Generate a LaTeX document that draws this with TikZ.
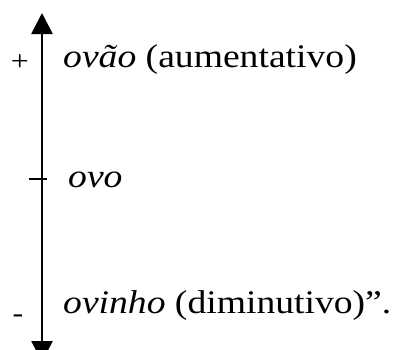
\documentclass[tikz,border=0pt]{standalone}
\usepackage{fontspec}
\setmainfont[FakeStretch=1.14]{Liberation Serif}
\usetikzlibrary{arrows.meta}
\begin{document}
\begin{tikzpicture}[x=1pt,y=-1pt,
  lbl/.style={anchor=base west,inner sep=0pt,font=\fontsize{33}{38}\selectfont},
  sgn/.style={inner sep=0pt,font=\fontsize{28}{32}\selectfont},
  axis/.style={line width=2.6pt,{Triangle[width=21pt,length=21pt]}-{Triangle[width=21pt,length=21pt]}}]
\useasboundingbox (0,0) rectangle (398,349);
\coordinate (top) at (42,13);
\coordinate (bot) at (42,362);
\draw[axis] (bot) -- (top);
\coordinate (tl) at (29,179);
\coordinate (tr) at (47,179);
\draw[line width=1.4pt] (tl) -- (tr);
\node[lbl] (a) at (63,67) {\textit{ovão} (aumentativo)};
\node[lbl] (o) at (68,187) {\textit{ovo}};
\node[lbl] (d) at (63,313) {\textit{ovinho} (diminutivo)”.};
\node[sgn] (p) at (20,63) {+};
\node[sgn] (m) at (18,319) {-};
\end{tikzpicture}
\end{document}
